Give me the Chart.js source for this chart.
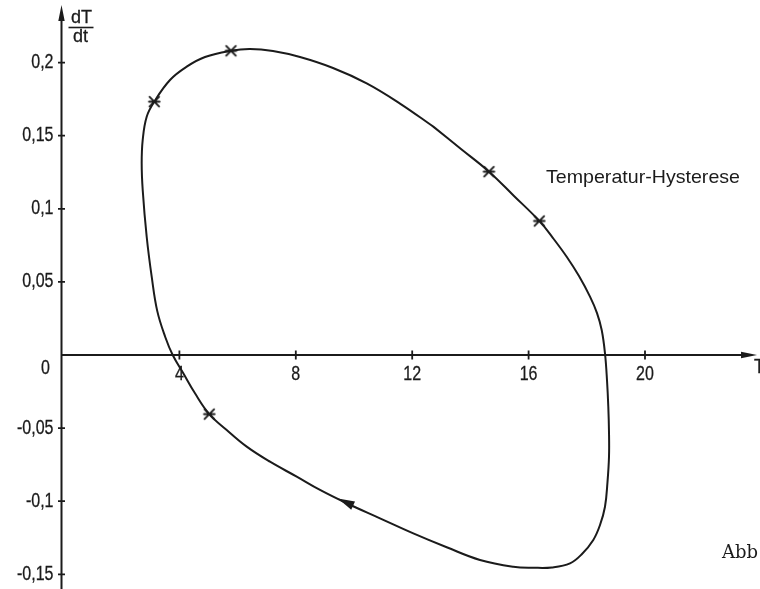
<!DOCTYPE html>
<html>
<head>
<meta charset="utf-8">
<script src="https://cdn.jsdelivr.net/npm/chart.js@4.4.1/dist/chart.umd.min.js"></script>
<style>
  html, body { margin: 0; padding: 0; background: #ffffff; }
  #wrap { width: 760px; height: 589px; }
</style>
</head>
<body>
<div id="wrap"><canvas id="c" width="760" height="589"></canvas></div>
<script>
// Hysteresis loop: temperature T against its rate of change dT/dt (clockwise)
const loopT = [12.725, 13.677, 14.639, 15.498, 16.368, 16.838, 17.309, 17.732, 18.110, 18.351,
               18.512, 18.625, 18.694, 18.739, 18.763, 18.763, 18.711, 18.625, 18.454, 18.223,
               17.835, 17.423, 16.804, 16.162, 15.474, 14.330, 13.186, 12.038, 10.893, 9.749,
               8.832, 8.031, 7.113, 6.313, 5.625, 5.027, 4.536, 4.134, 3.770, 3.520,
               3.240, 3.048, 2.876, 2.739, 2.704, 2.739, 2.876, 3.137, 3.677, 4.251,
               4.880, 5.773, 6.426, 7.216, 8.144, 9.278, 10.436, 11.581, 12.725];
const loopRate = [0.1562, 0.1409, 0.1254, 0.1088, 0.0917, 0.0800, 0.0672, 0.0540, 0.0399, 0.0287,
                  0.0171, 0.0012, -0.0171, -0.0354, -0.0527, -0.0696, -0.0869, -0.1038, -0.1163, -0.1265,
                  -0.1361, -0.1425, -0.1453, -0.1455, -0.1448, -0.1402, -0.1315, -0.1220, -0.1117, -0.1014,
                  -0.0923, -0.0832, -0.0730, -0.0627, -0.0513, -0.0404, -0.0262, -0.0125, 0.0000, 0.0120,
                  0.0300, 0.0536, 0.0809, 0.1129, 0.1311, 0.1471, 0.1630, 0.1733, 0.1881, 0.1972,
                  0.2038, 0.2081, 0.2093, 0.2079, 0.2038, 0.1963, 0.1858, 0.1720, 0.1562];

// Measured points marked with stars
const markT = [3.137, 5.773, 14.639, 16.368, 5.027];
const markRate = [0.1733, 0.2081, 0.1254, 0.0917, -0.0404];

// Direction arrow on the lower branch (tail -> tip)
const arrowTail = [9.97, -0.1030];
const arrowTip = [9.45, -0.0982];

// Axis ticks and labels
const xTicks = [4, 8, 12, 16, 20];
const xTickLabels = ['4', '8', '12', '16', '20'];
const yTicks = [0.2, 0.15, 0.1, 0.05, -0.05, -0.1, -0.15];
const yTickLabels = ['0,2', '0,15', '0,1', '0,05', '-0,05', '-0,1', '-0,15'];
const originLabel = '0';
const xAxisTitle = 'T';
const yAxisTitleTop = 'dT';
const yAxisTitleBottom = 'dt';
const curveTitle = 'Temperatur-Hysterese';
const figureLabel = 'Abb';

// Axis extents
const xAxisEnd = 23.85;
const yAxisTop = 0.2394;

const INK = '#1b1b1b';
const SANS = "'Liberation Sans', Arimo, sans-serif";

// technical lettering is narrow and pen-drawn: compress and slightly thicken the glyphs
function narrowText(ctx, text, x, y, align, sx, weight) {
  ctx.save();
  ctx.translate(x, y);
  ctx.scale(sx, 1);
  ctx.textAlign = align;
  ctx.fillText(text, 0, 0);
  if (weight) {
    ctx.lineWidth = weight;
    ctx.strokeStyle = INK;
    ctx.strokeText(text, 0, 0);
  }
  ctx.restore();
}

function starCanvas() {
  const s = 15, c = document.createElement('canvas');
  c.width = s; c.height = s;
  const g = c.getContext('2d');
  const m = s / 2, r = 4.8;
  g.strokeStyle = INK; g.lineWidth = 1.9; g.lineCap = 'round';
  g.beginPath();
  g.moveTo(m - r, m - r); g.lineTo(m + r, m + r);
  g.moveTo(m - r, m + r); g.lineTo(m + r, m - r);
  g.moveTo(m - r - 0.5, m); g.lineTo(m + r + 0.5, m);
  g.stroke();
  return c;
}

const axesPlugin = {
  id: 'crossAxes',
  beforeDatasetsDraw(chart) {
    const { ctx, scales: { x, y } } = chart;
    const x0 = x.getPixelForValue(0) - 1.5, y0 = y.getPixelForValue(0);
    const xEnd = x.getPixelForValue(xAxisEnd), yTop = y.getPixelForValue(yAxisTop);
    ctx.save();
    ctx.strokeStyle = INK; ctx.fillStyle = INK; ctx.lineWidth = 2;
    // axis lines
    ctx.beginPath();
    ctx.moveTo(x0, chart.height); ctx.lineTo(x0, yTop + 10);
    ctx.moveTo(x0, y0); ctx.lineTo(xEnd - 10, y0);
    ctx.stroke();
    // arrow heads
    ctx.beginPath();
    ctx.moveTo(x0, yTop); ctx.lineTo(x0 - 3.2, yTop + 16); ctx.lineTo(x0 + 3.2, yTop + 16); ctx.closePath();
    ctx.moveTo(xEnd, y0); ctx.lineTo(xEnd - 16, y0 - 3.2); ctx.lineTo(xEnd - 16, y0 + 3.2); ctx.closePath();
    ctx.fill();
    // tick marks crossing the axes
    ctx.lineWidth = 1.8;
    ctx.beginPath();
    xTicks.forEach(v => { const p = x.getPixelForValue(v); ctx.moveTo(p, y0 - 4.5); ctx.lineTo(p, y0 + 4.5); });
    yTicks.forEach(v => { const p = y.getPixelForValue(v); ctx.moveTo(x0 - 3.5, p); ctx.lineTo(x0 + 3.5, p); });
    ctx.stroke();
    // tick labels
    ctx.font = '20px ' + SANS;
    ctx.textBaseline = 'middle';
    xTicks.forEach((v, i) => narrowText(ctx, xTickLabels[i], x.getPixelForValue(v), y0 + 19, 'center', 0.8, 0.3));
    yTicks.forEach((v, i) => narrowText(ctx, yTickLabels[i], x0 - 8, y.getPixelForValue(v), 'right', 0.8, 0.3));
    narrowText(ctx, originLabel, x0 - 16, y0 + 13, 'center', 0.8, 0.3);
    // axis titles
    narrowText(ctx, xAxisTitle, xEnd - 3, y0 + 12, 'left', 0.85, 0.3);
    ctx.font = '19px ' + SANS;
    narrowText(ctx, yAxisTitleTop, x0 + 20, 18, 'center', 0.95, 0.3);
    narrowText(ctx, yAxisTitleBottom, x0 + 19, 37, 'center', 0.95, 0.3);
    ctx.lineWidth = 1.6;
    ctx.beginPath(); ctx.moveTo(x0 + 7, 27.5); ctx.lineTo(x0 + 32, 27.5); ctx.stroke();
    ctx.restore();
  },
  afterDatasetsDraw(chart) {
    const { ctx, scales: { x, y } } = chart;
    const tx = x.getPixelForValue(arrowTip[0]), ty = y.getPixelForValue(arrowTip[1]);
    const bx = x.getPixelForValue(arrowTail[0]), by = y.getPixelForValue(arrowTail[1]);
    const dx = tx - bx, dy = ty - by, L = Math.hypot(dx, dy);
    const ux = dx / L, uy = dy / L, w = 4.5;
    ctx.save();
    ctx.fillStyle = INK;
    ctx.beginPath();
    ctx.moveTo(tx, ty);
    ctx.lineTo(bx - uy * w, by + ux * w);
    ctx.lineTo(bx + uy * w, by - ux * w);
    ctx.closePath();
    ctx.fill();
    // text annotations
    ctx.textBaseline = 'middle';
    ctx.font = '19px ' + SANS;
    const wTitle = ctx.measureText(curveTitle).width;
    narrowText(ctx, curveTitle, 546, 178, 'left', 194 / wTitle, 0);
    ctx.font = '18px "DejaVu Serif", "Liberation Serif", serif';
    ctx.textAlign = 'left';
    ctx.fillText(figureLabel, 722, 553);
    ctx.restore();
  }
};

new Chart(document.getElementById('c'), {
  type: 'scatter',
  data: {
    datasets: [
      {
        data: loopT.map((t, i) => ({ x: t, y: loopRate[i] })),
        showLine: true,
        borderColor: INK,
        borderWidth: 2,
        pointRadius: 0,
        tension: 0.4,
        fill: false
      },
      {
        data: markT.map((t, i) => ({ x: t, y: markRate[i] })),
        showLine: false,
        pointStyle: starCanvas(),
        pointRadius: 6
      }
    ]
  },
  options: {
    responsive: false,
    devicePixelRatio: 1,
    animation: false,
    layout: { padding: 0, autoPadding: false },
    plugins: { legend: { display: false }, tooltip: { enabled: false } },
    scales: {
      x: { type: 'linear', min: -2.165, max: 23.952, display: false },
      y: { type: 'linear', min: -0.16005, max: 0.24282, display: false }
    }
  },
  plugins: [axesPlugin]
});
</script>
</body>
</html>
